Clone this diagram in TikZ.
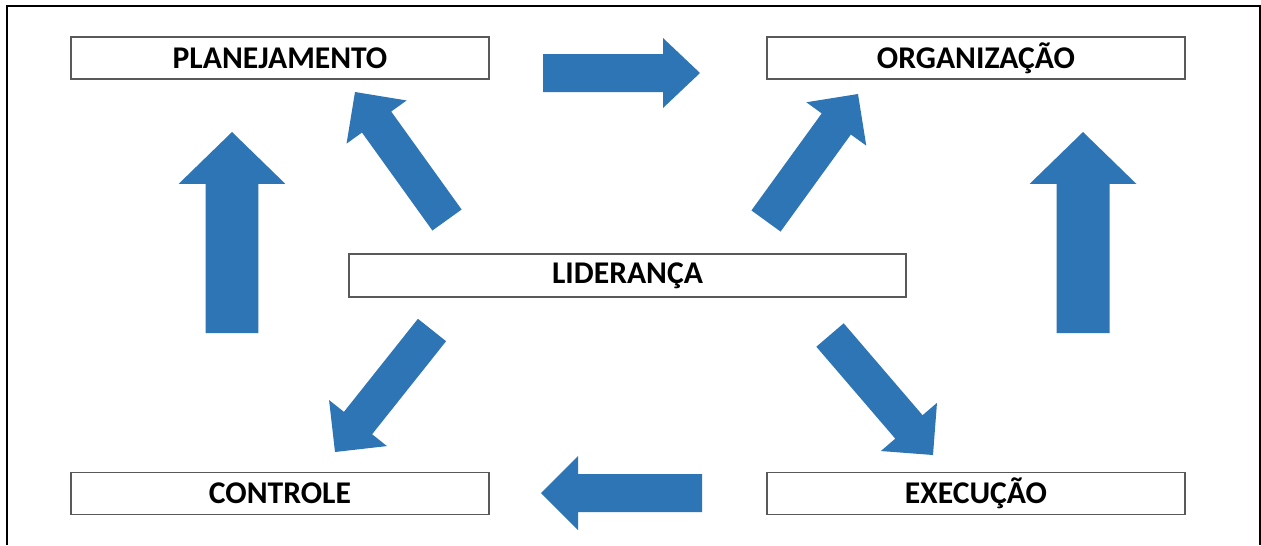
\documentclass[tikz,border=0pt]{standalone}
\usepackage{fontspec}
\setmainfont{Carlito}
\usetikzlibrary{calc}
\definecolor{arrowblue}{RGB}{46,117,182}
% block arrow: tail, tip, shaft half width, head half width, head length
\newcommand{\blockarrow}[5]{%
  \path ($(#2)!#5!(#1)$) coordinate (h);
  \fill[arrowblue] ($(#1)!#3!90:(#2)$) -- ($(h)!#3!90:(#2)$) -- ($(h)!#4!90:(#2)$)
    -- (#2) -- ($(h)!#4!-90:(#2)$) -- ($(h)!#3!-90:(#2)$) -- ($(#1)!#3!-90:(#2)$) -- cycle;
}
\tikzset{
  stage/.style={draw=black!65,line width=0.9pt,fill=white,minimum width=8.36cm,
    minimum height=0.84cm,inner sep=0pt,font=\fontsize{18}{21}\selectfont\bfseries},
}
\begin{document}
\begin{tikzpicture}[x=0.02cm,y=-0.02cm]
  \useasboundingbox (0,0) rectangle (1261,545);
  % the frame, open at the bottom
  \draw[line width=1.6pt] (7,545) -- (7,6) -- (1260,6) -- (1260,545);
  %% the boxes
  \node[stage] (plan) at (280,58) {PLANEJAMENTO};
  \node[stage] (org) at (976,58) {ORGANIZAÇÃO};
  \node[stage,minimum width=11.14cm,minimum height=0.86cm] (lid) at (627.5,275.5) {LIDERANÇA};
  \node[stage] (ctrl) at (280,493.5) {CONTROLE};
  \node[stage] (exec) at (976,493.5) {EXECUÇÃO};
  %% the arrows
  \coordinate (t1) at (543,73);  \coordinate (p1) at (700,73);
  \coordinate (t2) at (702,493); \coordinate (p2) at (541,493);
  \coordinate (t3) at (232,333); \coordinate (p3) at (232,132);
  \coordinate (t4) at (1083,333); \coordinate (p4) at (1083,132);
  \coordinate (t5) at (447,220); \coordinate (p5) at (355,92);
  \coordinate (t6) at (766,221); \coordinate (p6) at (858,94);
  \coordinate (t7) at (432,330); \coordinate (p7) at (335,452);
  \coordinate (t8) at (830,335); \coordinate (p8) at (933,455);
  \blockarrow{t1}{p1}{0.38cm}{0.70cm}{0.74cm}
  \blockarrow{t2}{p2}{0.38cm}{0.74cm}{0.74cm}
  \blockarrow{t3}{p3}{0.53cm}{1.07cm}{1.04cm}
  \blockarrow{t4}{p4}{0.53cm}{1.07cm}{1.04cm}
  \foreach \i in {5,...,8}
    {\blockarrow{t\i}{p\i}{0.36cm}{0.74cm}{0.74cm}}
\end{tikzpicture}
\end{document}
